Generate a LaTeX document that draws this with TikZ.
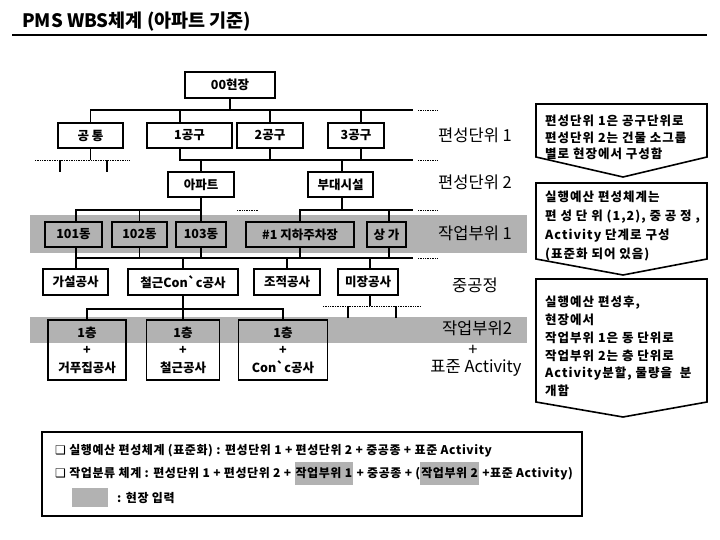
\documentclass[tikz,border=0pt]{standalone}
\usepackage{fontspec}
\setmainfont{Noto Sans CJK KR}
\newfontfamily\dejavu{DejaVu Sans}
\newfontfamily\spaced{Noto Sans CJK KR}[LetterSpace=5]
\newfontfamily\nspaced{Noto Sans CJK KR}[LetterSpace=8]
\definecolor{bandgrey}{RGB}{178,178,178}
\newcommand\hlgrey[1]{{\setlength{\fboxsep}{0pt}\colorbox{bandgrey}{\rule[-8pt]{0pt}{23pt}\hspace{1pt}#1\hspace{1pt}}}}
\newcommand\bq{\textasciigrave}
\begin{document}
\begin{tikzpicture}[x=1pt,y=-1pt,
  box/.style={draw, line width=1.6pt, inner sep=0pt, font=\fontsize{12.5}{14}\selectfont\bfseries},
  gbox/.style={box, fill=bandgrey},
  conn/.style={line width=1.6pt},
  dots/.style={line width=0.8pt, dash pattern=on 0.8pt off 0.9pt},
  lab/.style={font=\fontsize{16.5}{18}\selectfont, inner sep=0pt},
  note/.style={line width=1.6pt},
  notetext/.style={anchor=west, align=left, inner sep=0pt},
  legtext/.style={anchor=base west, inner sep=0pt, font=\spaced\fontsize{12}{13}\selectfont\bfseries}
]
\useasboundingbox (0,0) rectangle (720,540);

% title
\node[anchor=base west, inner sep=0pt, font=\fontsize{18.5}{20}\selectfont\bfseries] (title) at (22,28) {PMS WBS체계 (아파트 기준)};
\coordinate (tl) at (12,35);
\coordinate (tr) at (707,35);
\draw[line width=2pt] (tl) -- (tr);

% grey bands
\fill[bandgrey] (30,215) rectangle (527,253);
\fill[bandgrey] (30,317) rectangle (527,343);

% nodes
\node[box, minimum width=90pt, minimum height=26pt] (site) at (230,85) {00현장};
\node[box, minimum width=65pt, minimum height=25pt] (gong) at (90.5,135.5) {공 통};
\node[box, minimum width=85pt, minimum height=25pt] (g1) at (189.5,135.5) {1공구};
\node[box, minimum width=66pt, minimum height=25pt] (g2) at (270,135.5) {2공구};
\node[box, minimum width=56pt, minimum height=25pt] (g3) at (356,135.5) {3공구};
\node[box, minimum width=66pt, minimum height=25pt] (apt) at (201,184.5) {아파트};
\node[box, minimum width=65pt, minimum height=25pt] (bud) at (340.5,184.5) {부대시설};
\node[gbox, minimum width=57pt, minimum height=25pt] (d101) at (73.5,234.5) {101동};
\node[gbox, minimum width=55pt, minimum height=25pt] (d102) at (139.5,234.5) {102동};
\node[gbox, minimum width=50pt, minimum height=25pt] (d103) at (201,234.5) {103동};
\node[gbox, minimum width=108pt, minimum height=25pt] (park) at (300,234.5) {\#1 지하주차장};
\node[gbox, minimum width=39pt, minimum height=25pt] (shop) at (386.5,234.5) {상 가};
\node[box, minimum width=65pt, minimum height=26pt] (ga) at (75.5,282) {가설공사};
\node[box, minimum width=110pt, minimum height=26pt] (rc) at (183,282) {철근Con\bq c공사};
\node[box, minimum width=66pt, minimum height=26pt] (jo) at (287,282) {조적공사};
\node[box, minimum width=60pt, minimum height=26pt] (mi) at (368,282) {미장공사};
\node[box, minimum width=78pt, minimum height=60pt, align=center, font=\fontsize{12.5}{17.5}\selectfont\bfseries] (f1) at (87,350) {1층\\+\\거푸집공사};
\node[box, minimum width=73pt, minimum height=60pt, align=center, font=\fontsize{12.5}{17.5}\selectfont\bfseries] (f2) at (183,350) {1층\\+\\철근공사};
\node[box, minimum width=89pt, minimum height=60pt, align=center, font=\fontsize{12.5}{17.5}\selectfont\bfseries] (f3) at (283,350) {1층\\+\\Con\bq c공사};

% bus coordinates
\coordinate (b1R) at (413,110);
\coordinate (b2R) at (413,160);
\coordinate (b3a) at (201,210);
\coordinate (b3bR) at (413,210);
\coordinate (b4R) at (413,258);
\coordinate (b5) at (183,309);

% level 1
\draw[conn] (gong.north) |- (b1R);
\draw[conn] (site.south) -- (site.south |- b1R);
\draw[conn] (g1.north -| 180,0) -- (b1R -| 180,0);
\draw[conn] (g2.north) -- (g2.north |- b1R);
\draw[conn] (g3.north -| 361,0) -- (b1R -| 361,0);
% level 2
\draw[conn] (g1.south -| 180,0) |- (b2R);
\draw[conn] (g2.south) -- (g2.south |- b2R);
\draw[conn] (g3.south -| 361,0) -- (b2R -| 361,0);
\draw[conn] (apt.north) -- (apt.north |- b2R);
\draw[conn] (bud.north -| 342,0) -- (b2R -| 342,0);
% under common
\coordinate (cdL) at (35,160);
\coordinate (cdR) at (130,160);
\coordinate (cs1) at (60,172);
\coordinate (cs2) at (107,172);
\draw[conn] (gong.south) -- (gong.south |- cdL);
\draw[dots] (cdL) -- (cdR);
\draw[conn] (cs1) -- (cs1 |- cdL);
\draw[conn] (cs2) -- (cs2 |- cdL);
% level 3
\draw[conn] (apt.south) -- (b3a) -| (d101.north -| 76,0);
\draw[conn] (d102.north) -- (d102.north |- b3a);
\draw[conn] (d103.north) -- (d103.north |- b3a);
\draw[conn] (bud.south -| 342,0) |- (b3bR);
\draw[conn] (park.north) |- (b3bR);
\draw[conn] (shop.north -| 389,0) -- (b3bR -| 389,0);
% level 4
\draw[conn] (d101.south -| 76,0) |- (b4R);
\draw[conn] (d102.south) -- (d102.south |- b4R);
\draw[conn] (d103.south) -- (d103.south |- b4R);
\draw[conn] (park.south) -- (park.south |- b4R);
\draw[conn] (shop.south -| 389,0) -- (b4R -| 389,0);
\draw[conn] (b4R -| 76,0) -- (ga.north -| 76,0);
\draw[conn] (rc.north) -- (rc.north |- b4R);
\draw[conn] (jo.north) -- (jo.north |- b4R);
\draw[conn] (mi.north -| 370,0) -- (b4R -| 370,0);
% level 5
\draw[conn] (f1.north) |- (f3.north |- b5) -- (f3.north);
\draw[conn] (rc.south) -- (f2.north);
\coordinate (mdL) at (323,306);
\coordinate (mdR) at (420,306);
\coordinate (ms1) at (348,318);
\coordinate (ms2) at (396,318);
\draw[conn] (mi.south -| 370,0) -- (mdL -| 370,0);
\draw[dots] (mdL) -- (mdR);
\draw[conn] (ms1) -- (ms1 |- mdL);
\draw[conn] (ms2) -- (ms2 |- mdL);

% dotted continuations
\coordinate (d1a) at (418,110); \coordinate (d1b) at (438,110);
\coordinate (d2a) at (418,160); \coordinate (d2b) at (438,160);
\coordinate (d3a) at (237,210); \coordinate (d3b) at (259,210);
\coordinate (d4a) at (418,210); \coordinate (d4b) at (438,210);
\coordinate (d5a) at (418,258); \coordinate (d5b) at (438,258);
\draw[dots] (d1a) -- (d1b);
\draw[dots] (d2a) -- (d2b);
\draw[dots] (d3a) -- (d3b);
\draw[dots] (d4a) -- (d4b);
\draw[dots] (d5a) -- (d5b);

% right labels
\node[lab] (L1) at (475,135) {편성단위 1};
\node[lab] (L2) at (475,182) {편성단위 2};
\node[lab] (L3) at (475,233) {작업부위 1};
\node[lab] (L4) at (475,285) {중공정};
\node[lab] (L5) at (477,328) {작업부위2};
\node[lab] (L6) at (473,350) {+};
\node[lab] (L7) at (476,368) {표준 Activity};

% note boxes
\draw[note] (536,104) -- (707,104) -- (707,157) -- (623,177) -- (536,157) -- cycle;
\node[notetext, font=\nspaced\fontsize{12.5}{16.5}\selectfont\bfseries] (n1) at (545,137.5) {편성단위 1은 공구단위로\\편성단위 2는 건물 소그룹\\별로 현장에서 구성함};
\draw[note] (536,183) -- (707,183) -- (707,259) -- (623,275) -- (536,259) -- cycle;
\node[notetext, font=\nspaced\fontsize{12.5}{18.7}\selectfont\bfseries] (n2) at (545,226) {실행예산 편성체계는\\편 성 단 위 (1,2), 중 공 정 ,\\Activity 단계로 구성\\(표준화 되어 있음)};
\draw[note] (536,279) -- (707,279) -- (707,402) -- (623,417) -- (536,402) -- cycle;
\node[notetext, font=\nspaced\fontsize{12.5}{17.8}\selectfont\bfseries] (n3) at (545,346.5) {실행예산 편성후,\\현장에서\\작업부위 1은 동 단위로\\작업부위 2는 층 단위로\\Activity분할, 물량을 \ 분\\개함};

% legend box
\node[draw, line width=2pt, minimum width=540pt, minimum height=84pt, inner sep=0pt] (leg) at (312,474) {};
\node[legtext] (lg1) at (55,454) {{\dejavu ❑} 실행예산 편성체계 (표준화) : 편성단위 1 + 편성단위 2 + 중공종 + 표준 Activity};
\node[legtext] (lg2) at (55,477) {{\dejavu ❑} 작업분류 체계 : 편성단위 1 + 편성단위 2 + \hlgrey{작업부위 1} + 중공종 + (\hlgrey{작업부위 2} +표준 Activity)};
\node[fill=bandgrey, minimum width=36pt, minimum height=19pt, inner sep=0pt] (sw) at (90,497.5) {};
\node[anchor=west, inner sep=0pt, font=\spaced\fontsize{12}{13}\selectfont\bfseries] (swt) at (117,498) {: 현장 입력};
\end{tikzpicture}
\end{document}
